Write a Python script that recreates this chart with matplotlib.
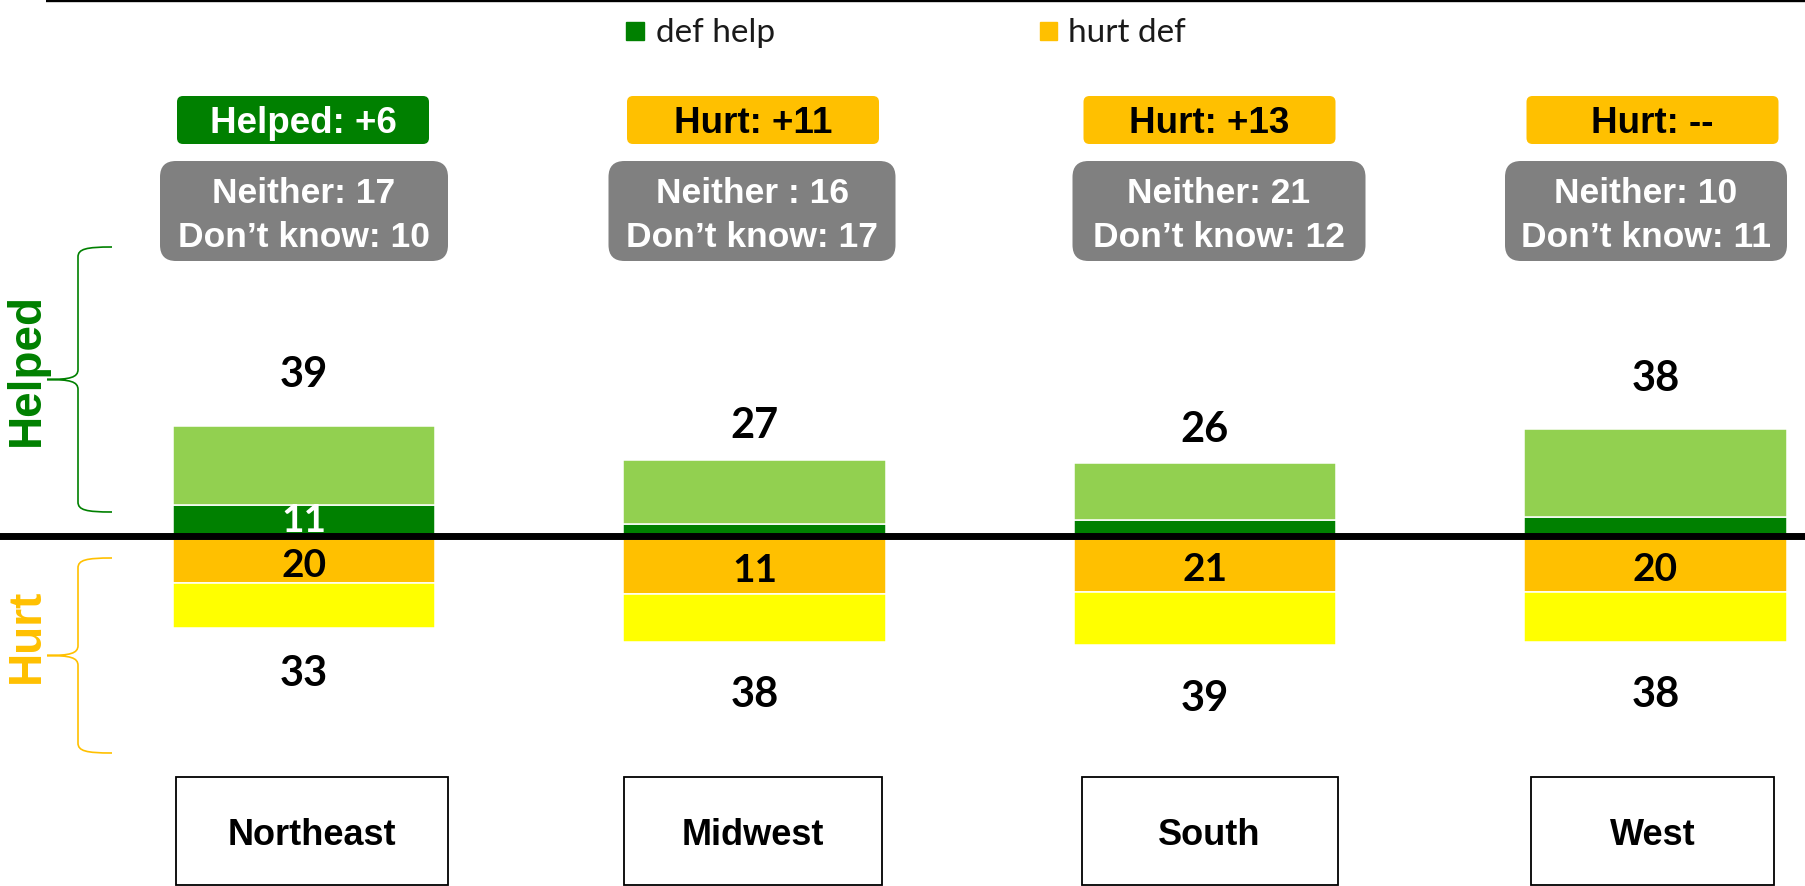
import matplotlib
matplotlib.use('Agg')
import matplotlib.pyplot as plt
from matplotlib.patches import FancyBboxPatch, Rectangle, PathPatch
from matplotlib.path import Path
import numpy as np

# Regions
regions = ['Northeast', 'Midwest', 'South', 'West']

# Helped / hurt shares (bar heights as drawn)
help_total = np.array([39, 27, 26, 38])
help_def = np.array([11, 4, 5.5, 6.5])
hurt_total = np.array([33, 38, 39, 38])
hurt_def = np.array([17, 21, 20, 20])

# Labels shown on the chart
help_def_labels = ['11', '', '', '']
hurt_def_labels = ['20', '11', '21', '20']
net_labels = ['Helped: +6', 'Hurt: +11', 'Hurt: +13', 'Hurt: --']
neither_labels = ['Neither: 17', 'Neither : 16', 'Neither: 21', 'Neither: 10']
dont_know = [10, 17, 12, 11]

DARK_GREEN = '#008000'
LIGHT_GREEN = '#92D050'
ORANGE = '#FFC000'
YELLOW = '#FFFF00'
GRAY = '#808080'

ARIAL = ['Liberation Sans', 'DejaVu Sans']
CALIBRI = ['Lato', 'DejaVu Sans']

W, H = 1805, 886
fig = plt.figure(figsize=(W / 100, H / 100), dpi=100)

# data axes: 1 value unit = 2.8 px, baseline 535.5 px from top
ax = fig.add_axes([0, 0, 1, 1])
ax.set_xlim(-304 / 450.5, (W - 304) / 450.5)
ax.set_ylim(-(H - 535.5) / 2.8, 535.5 / 2.8)
ax.axis('off')

x = np.arange(len(regions))
width = 0.582
edge = dict(edgecolor='white', linewidth=1.1)

ax.bar(x, help_def, width, color=DARK_GREEN, **edge)
ax.bar(x, help_total - help_def, width, bottom=help_def, color=LIGHT_GREEN, **edge)
ax.bar(x, -hurt_def, width, color=ORANGE, **edge)
ax.bar(x, -(hurt_total - hurt_def), width, bottom=-hurt_def, color=YELLOW, **edge)

ax.axhline(0, color='black', linewidth=5, zorder=5)

for i in x:
    ax.text(i, help_total[i] * 1.5, str(help_total[i]), ha='center', va='center_baseline',
            fontsize=30, fontweight='bold', family=CALIBRI)
    ax.text(i, -hurt_total[i] * 1.464, str(hurt_total[i]), ha='center', va='center_baseline',
            fontsize=30, fontweight='bold', family=CALIBRI)
    ax.text(i, help_def[i] / 2 + 1, help_def_labels[i], ha='center', va='center_baseline',
            fontsize=28, fontweight='bold', family=CALIBRI, color='white', zorder=6)
    ax.text(i, -hurt_def[i] / 2 - 1, hurt_def_labels[i], ha='center', va='center_baseline',
            fontsize=28, fontweight='bold', family=CALIBRI, zorder=6)

# overlay in pixel units (y from top) for boxes, braces and legend
ov = fig.add_axes([0, 0, 1, 1])
ov.set_xlim(0, W)
ov.set_ylim(H, 0)
ov.axis('off')

ov.plot([46, W], [1.2, 1.2], color='black', linewidth=1.7, solid_capstyle='butt')

# legend
ov.add_patch(Rectangle((626, 22), 18, 17.5, color=DARK_GREEN))
ov.text(656, 41.5, 'def help', fontsize=24, family=CALIBRI, color='#1a1a1a', va='baseline')
ov.add_patch(Rectangle((1039.5, 22), 17.5, 17.5, color=ORANGE))
ov.text(1068, 41.5, 'hurt def', fontsize=24, family=CALIBRI, color='#1a1a1a', va='baseline')

# small hand-placed shifts of the boxes relative to the bar centres
head_shift = [-1, -1.5, 4.5, -3]
gray_shift = [0, -2.5, 14, -9.5]
region_shift = [7.5, -2, 4.5, -3]
gray_widths = [288, 287, 293, 282]
box_widths = [272, 258, 256, 243]

for i in x:
    cx = ax.transData.transform((i, 0))[0]
    helped = net_labels[i].startswith('Helped')

    hx = cx + head_shift[i]
    ov.add_patch(FancyBboxPatch((hx - 126, 96), 252, 48,
                                boxstyle='round,pad=0,rounding_size=6',
                                facecolor=DARK_GREEN if helped else ORANGE, edgecolor='none'))
    ov.text(hx, 133.3, net_labels[i], ha='center', va='baseline', fontsize=26.5,
            fontweight='bold', family=ARIAL, color='white' if helped else 'black')

    gx = cx + gray_shift[i]
    gw = gray_widths[i]
    ov.add_patch(FancyBboxPatch((gx - gw / 2, 161), gw, 100,
                                boxstyle='round,pad=0,rounding_size=16',
                                facecolor=GRAY, edgecolor='none'))
    ov.text(gx, 202.7, neither_labels[i], ha='center', va='baseline', fontsize=25.5,
            fontweight='bold', family=ARIAL, color='white')
    ov.text(gx, 246.7, 'Don\u2019t know: %d' % dont_know[i], ha='center', va='baseline',
            fontsize=25.5, fontweight='bold', family=ARIAL, color='white')

    rx = cx + region_shift[i]
    bw = box_widths[i]
    ov.add_patch(Rectangle((rx - bw / 2, 777), bw, 107.5, facecolor='white',
                           edgecolor='black', linewidth=1.3))
    ov.text(rx, 845, regions[i], ha='center', va='baseline', fontsize=26,
            fontweight='bold', family=ARIAL)


def brace(top, bot, color):
    xe, xs, xt = 112, 78, 47
    mid = (top + bot) / 2
    r = 10
    verts = [(xe, top), (xs + 8, top), (xs, top + 2), (xs, top + r),
             (xs, mid - r),
             (xs, mid - 2), (xs - 8, mid), (xt, mid),
             (xs - 8, mid), (xs, mid + 2), (xs, mid + r),
             (xs, bot - r),
             (xs, bot - 2), (xs + 8, bot), (xe, bot)]
    codes = [Path.MOVETO] + [Path.CURVE4] * 3 + [Path.LINETO] + [Path.CURVE4] * 6 + \
            [Path.LINETO] + [Path.CURVE4] * 3
    ov.add_patch(PathPatch(Path(verts, codes), facecolor='none', edgecolor=color, linewidth=1.2))


brace(247, 512, DARK_GREEN)
brace(558, 753, ORANGE)

ov.text(27, 370, 'Helped', rotation=90, ha='center', va='center', fontsize=33,
        fontweight='bold', family=ARIAL, color=DARK_GREEN)
ov.text(27, 636, 'Hurt', rotation=90, ha='center', va='center', fontsize=33,
        fontweight='bold', family=ARIAL, color=ORANGE)

fig.savefig('out.png', dpi=100)
